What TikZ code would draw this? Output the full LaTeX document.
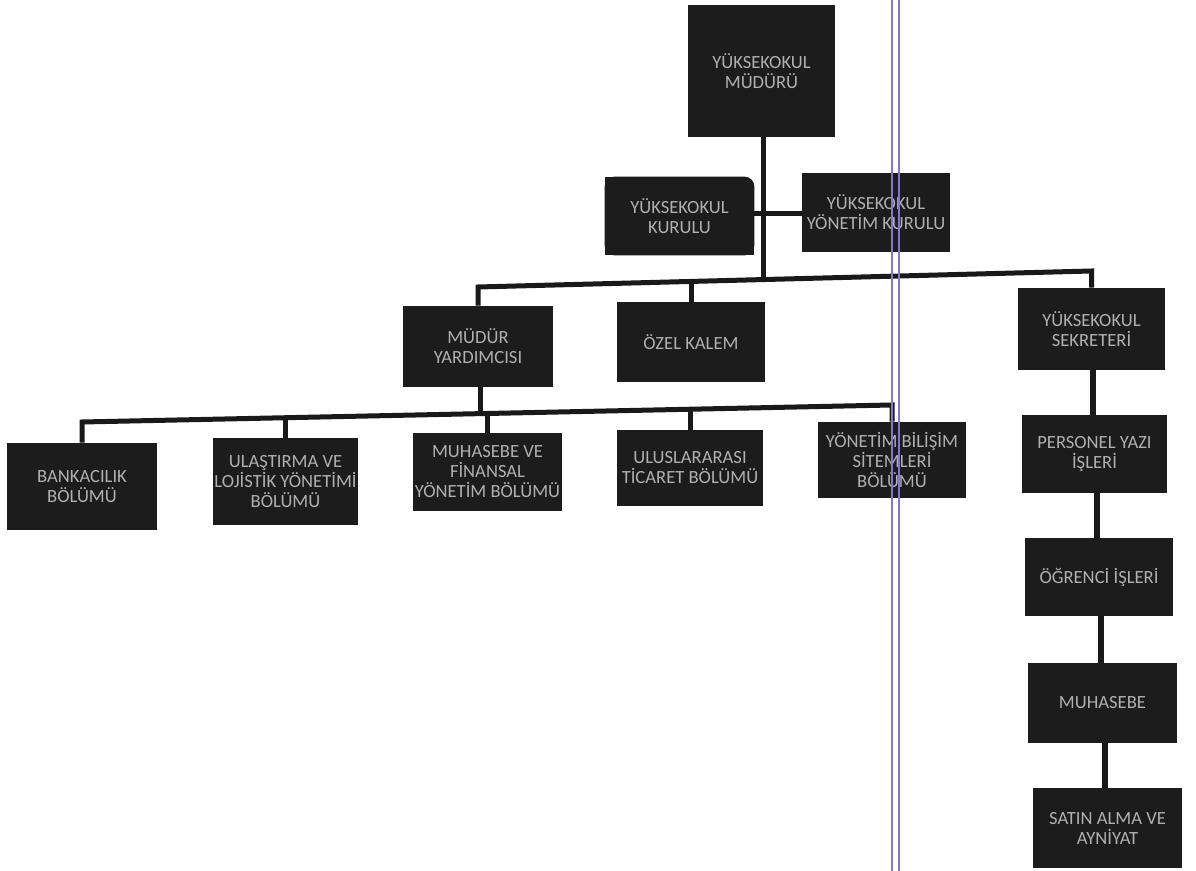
\documentclass[tikz,border=0pt]{standalone}
\usepackage{fontspec}
\setmainfont{Carlito}
\pgfdeclarelayer{background}
\pgfsetlayers{background,main}
\definecolor{boxfill}{HTML}{1C1C1C}
\definecolor{boxtext}{HTML}{B0B0B0}
\definecolor{scanblue}{HTML}{7C7CC4}
\tikzset{
  box/.style={fill=boxfill, text=boxtext, align=center, inner sep=0pt,
    font=\fontsize{9.3}{10}\selectfont},
  conn/.style={draw=black!90, line width=2.5pt},
  connv/.style={draw=black!90, line width=3pt},
  scanline/.style={draw=scanblue, line width=0.7pt}
}
\begin{document}
\begin{tikzpicture}[x=0.5pt, y=-0.5pt]
\useasboundingbox (0,0) rectangle (1196,871);

% top level
\node[box, minimum width=73.5pt, minimum height=66pt] (mud) at (761.5,71) {YÜKSEKOKUL\\MÜDÜRÜ};
\node[box, fill=none, minimum width=74.5pt, minimum height=39pt] (kurulu) at (679.5,216) {YÜKSEKOKUL\\KURULU};
\node[box, minimum width=74pt, minimum height=39.5pt] (yonkur) at (876,212.5) {YÜKSEKOKUL\\YÖNETİM KURULU};

% second level
\node[box, minimum width=75pt, minimum height=40.5pt] (myard) at (478,346.5) {MÜDÜR\\YARDIMCISI};
\node[box, minimum width=74pt, minimum height=40pt] (ozel) at (691,342) {ÖZEL KALEM};
\node[box, minimum width=73.5pt, minimum height=41pt] (sekr) at (1091.5,329) {YÜKSEKOKUL\\SEKRETERİ};

% right column
\node[box, minimum width=72.5pt, minimum height=39pt] (pers) at (1094.5,454) {PERSONEL YAZI\\İŞLERİ};
\node[box, minimum width=74pt, minimum height=39pt] (ogr) at (1099,577) {ÖĞRENCİ İŞLERİ};
\node[box, minimum width=74.5pt, minimum height=40pt] (muh) at (1102.5,703) {MUHASEBE};
\node[box, minimum width=74.5pt, minimum height=40pt] (satin) at (1107.5,828) {SATIN ALMA VE\\AYNİYAT};

% departments
\node[box, minimum width=75pt, minimum height=43.5pt] (bank) at (82,486.5) {BANKACILIK\\BÖLÜMÜ};
\node[box, minimum width=72.5pt, minimum height=43.5pt] (ulas) at (285.5,481.5) {ULAŞTIRMA VE\\LOJİSTİK YÖNETİMİ\\BÖLÜMÜ};
\node[box, minimum width=74.5pt, minimum height=39pt] (muhfin) at (487.5,472) {MUHASEBE VE\\FİNANSAL\\YÖNETİM BÖLÜMÜ};
\node[box, minimum width=73pt, minimum height=38pt] (ulus) at (690,468) {ULUSLARARASI\\TİCARET BÖLÜMÜ};
\node[box, minimum width=74pt, minimum height=38pt] (ybs) at (892,460) {YÖNETİM BİLİŞİM\\SİTEMLERİ\\BÖLÜMÜ};

% white page and the board box with one rounded corner
\begin{pgfonlayer}{background}
  \fill[white] (0,0) rectangle (1196,871);
  \fill[boxfill, rounded corners=5pt] (kurulu.south west) rectangle (kurulu.north east);
  \fill[boxfill] (kurulu.south west) rectangle (kurulu.north);
  \fill[boxfill] (kurulu.south west) rectangle (kurulu.east);
\end{pgfonlayer}

% bus coordinates
\coordinate (bL) at (478,287);
\coordinate (bR) at (1091.5,271);
\coordinate (bO) at (691,281.5);
\coordinate (bM) at (763,279.5);
\coordinate (kL) at (754,214);
\coordinate (kR) at (802,214);

\coordinate (dL) at (82,422);
\coordinate (dU) at (285.5,417.8);
\coordinate (dY) at (480,413.6);
\coordinate (dM) at (487.5,413.5);
\coordinate (dI) at (690,409.3);
\coordinate (dR) at (892,405);

% x positions of the right column links
\coordinate (r1) at (1093,0);
\coordinate (r2) at (1097,0);
\coordinate (r3) at (1101,0);
\coordinate (r4) at (1105,0);

% connectors, level 1
\draw[conn] (mud.south -| bM) -- (bM);
\draw[conn] (kL) -- (kR);
\draw[conn] (myard.north) -- (bL) -- (bR) -- (sekr.north);
\draw[conn] (ozel.north) -- (bO);

% connectors, departments
\draw[conn] (bank.north) -- (dL) -- (dR) -- (ybs.north);
\draw[conn] (ulas.north) -- (dU);
\draw[conn] (myard.south -| dY) -- (dY);
\draw[conn] (muhfin.north) -- (dM);
\draw[conn] (ulus.north) -- (dI);

% right column
\draw[connv] (sekr.south -| r1) -- (pers.north -| r1);
\draw[connv] (pers.south -| r2) -- (ogr.north -| r2);
\draw[connv] (ogr.south -| r3) -- (muh.north -| r3);
\draw[connv] (muh.south -| r4) -- (satin.north -| r4);

% scan margin lines
\draw[scanline] (892,0) -- (892,871);
\draw[scanline] (899,0) -- (899,871);
\end{tikzpicture}
\end{document}
